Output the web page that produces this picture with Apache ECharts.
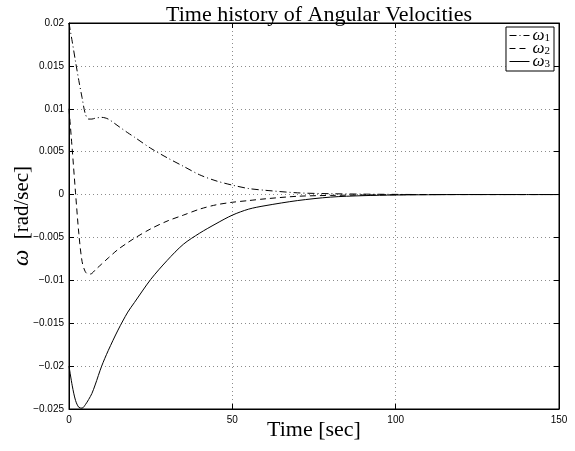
<!DOCTYPE html>
<html>
<head>
<meta charset="utf-8">
<script src="https://cdn.jsdelivr.net/npm/echarts@6/dist/echarts.min.js"></script>
<style>
html,body{margin:0;padding:0;background:#fff;}
#chart{width:575px;height:451px;}
</style>
</head>
<body>
<div id="chart"></div>
<script>
// ---- data ----
const times = [0,1,2,3,4,5,6,7,8,10,12,15,18,20,25,30,35,40,45,50,55,60,70,80,90,100,110,120,130,140,150];
const omega1 = [0.0200,0.0178,0.0155,0.0133,0.0113,0.0094,0.0088,0.0088,0.0089,0.0090,0.0088,0.0080,0.0072,0.0067,0.0054,0.0043,0.0033,0.0023,0.0016,0.0011,0.0007,0.0005,0.0002,0.0001,0.00005,0.00002,0,0,0,0,0];
const omega2 = [0.0100,0.0052,0.0002,-0.0045,-0.0078,-0.0090,-0.0093,-0.0092,-0.0088,-0.0081,-0.0074,-0.0064,-0.0056,-0.0051,-0.0040,-0.0031,-0.0024,-0.0017,-0.0012,-0.0009,-0.0007,-0.0005,-0.0002,-0.0001,-0.00005,-0.00002,0,0,0,0,0];
const omega3 = [-0.0200,-0.0223,-0.0240,-0.0248,-0.0249,-0.0245,-0.0239,-0.0232,-0.0222,-0.0200,-0.0182,-0.0158,-0.0137,-0.0126,-0.0099,-0.0077,-0.0058,-0.0045,-0.0034,-0.0024,-0.0017,-0.0013,-0.0007,-0.0003,-0.00013,-0.00005,-0.00002,0,0,0,0];
const seriesNames = ['ω1','ω2','ω3'];
const xTickLabels = ['0','50','100','150'];
const yTickLabels = ['0.02','0.015','0.01','0.005','0','\u22120.005','\u22120.01','\u22120.015','\u22120.02','\u22120.025'];
const xMin = 0, xMax = 150, xStep = 50;
const yMin = -0.025, yMax = 0.02, yStep = 0.005;

const chart = echarts.init(document.getElementById('chart'));
const pair = arr => times.map((t,i)=>[t,arr[i]]);
const yLabel = v => {
  const idx = Math.round((yMax - v)/yStep);
  return yTickLabels[idx] !== undefined ? yTickLabels[idx] : '';
};
const xLabel = v => {
  const idx = Math.round((v - xMin)/xStep);
  return xTickLabels[idx] !== undefined ? xTickLabels[idx] : '';
};
const tickFont = {fontFamily:'Liberation Sans', fontSize:10, color:'#000'};
const gridLine = {show:true, lineStyle:{color:'#8c8c8c', type:[1,3], width:1}};
const lineStyles = [
  {color:'#000', width:1, type:[7,3,1,3]},
  {color:'#000', width:1, type:[6,4]},
  {color:'#000', width:1, type:'solid'}
];
const dataSets = [omega1, omega2, omega3];
const axisLineStyle = {show:true, onZero:false, lineStyle:{color:'#000', width:1}};
const tickStyle = {show:true, inside:true, length:5, lineStyle:{color:'#000'}};

const option = {
  backgroundColor:'#fff',
  animation:false,
  title:{
    text:'Time history of Angular Velocities',
    left:314, top:-1, textAlign:'center',
    textStyle:{fontFamily:'Liberation Serif', fontSize:22, fontWeight:'normal', color:'#000'}
  },
  grid:{left:69, right:16, top:23, bottom:42, outerBoundsMode:'none', containLabel:false,
        show:true, borderColor:'#000', borderWidth:1, backgroundColor:'#fff'},
  legend:{
    show:true,
    orient:'vertical', right:21, top:27,
    itemGap:-4, itemWidth:20, itemHeight:12,
    padding:[0,4,1,3],
    backgroundColor:'#fff', borderColor:'#000', borderWidth:1,
    itemStyle:{opacity:0},
    data: seriesNames.map((n,i)=>({name:n, lineStyle:{color:'#000', width:1, type:lineStyles[i].type}, itemStyle:{opacity:0}})),
    formatter: n => '{w|ω}{s|' + n.slice(1) + '}',
    textStyle:{
      padding:[0,0,0,-2], lineHeight:12,
      rich:{
        w:{fontFamily:'Liberation Serif', fontStyle:'italic', fontSize:17, color:'#000', lineHeight:12},
        s:{fontFamily:'Liberation Serif', fontSize:11, color:'#000', lineHeight:6, padding:[6,0,0,0]}
      }
    }
  },
  xAxis:[{
    type:'value', min:xMin, max:xMax, interval:xStep,
    name:'Time [sec]', nameLocation:'middle', nameGap:10, nameMoveOverlap:false,
    nameTextStyle:{fontFamily:'Liberation Serif', fontSize:22, color:'#000', verticalAlign:'top'},
    axisLine:axisLineStyle,
    axisTick:tickStyle,
    axisLabel:{...tickFont, margin:6, formatter:xLabel},
    splitLine:gridLine
  },{
    type:'value', position:'top', min:xMin, max:xMax, interval:xStep,
    axisLine:axisLineStyle, axisTick:tickStyle,
    axisLabel:{show:false}, splitLine:{show:false}
  }],
  yAxis:[{
    type:'value', min:yMin, max:yMax, interval:yStep,
    name:'{w|ω}  [rad/sec]', nameLocation:'middle', nameRotate:90, nameGap:47, nameMoveOverlap:false,
    nameTextStyle:{
      fontFamily:'Liberation Serif', fontSize:21, color:'#000', verticalAlign:'middle',
      rich:{w:{fontFamily:'Liberation Serif', fontStyle:'italic', fontSize:23, color:'#000'}}
    },
    axisLine:axisLineStyle, axisTick:tickStyle,
    axisLabel:{...tickFont, margin:5, formatter:yLabel},
    splitLine:gridLine
  },{
    type:'value', position:'right', min:yMin, max:yMax, interval:yStep,
    axisLine:axisLineStyle, axisTick:tickStyle,
    axisLabel:{show:false}, splitLine:{show:false}
  }],
  series: seriesNames.map((n,i)=>({
    name:n, type:'line', data:pair(dataSets[i]),
    showSymbol:false, symbol:'none', smooth:0.3,
    lineStyle:lineStyles[i], itemStyle:{color:'#000'},
    z: 3-i
  }))
};
chart.setOption(option);
</script>
</body>
</html>
